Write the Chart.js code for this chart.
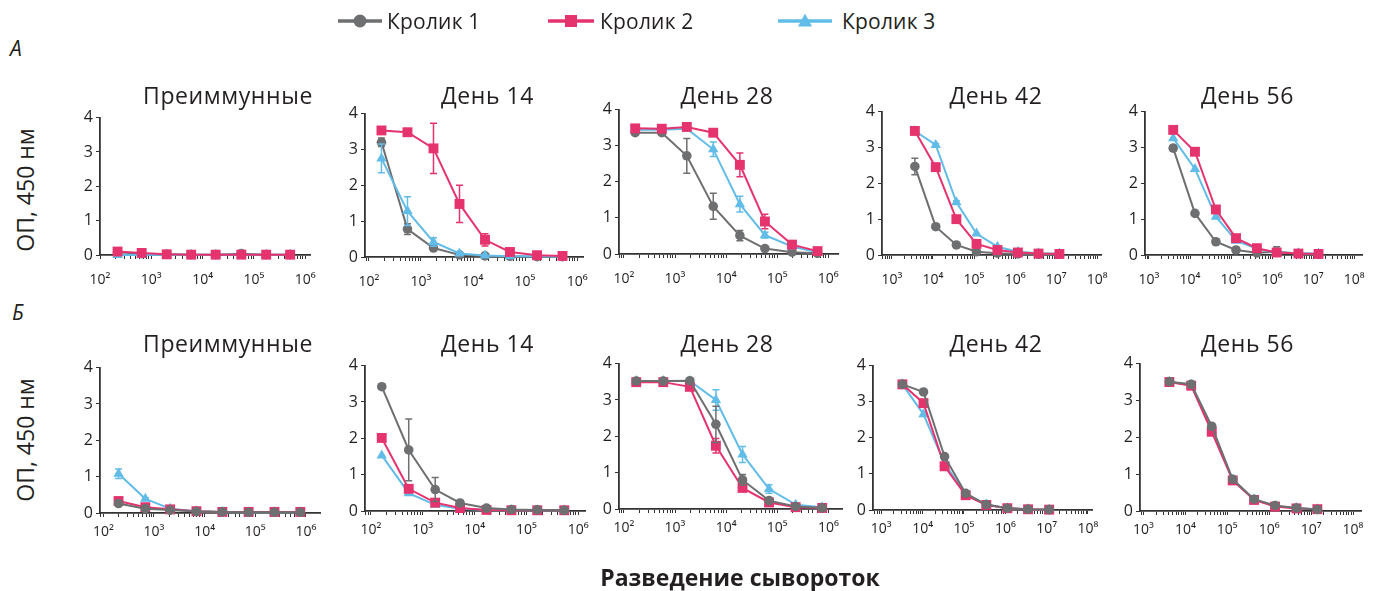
<!DOCTYPE html>
<html><head><meta charset="utf-8">
<script src="https://cdn.jsdelivr.net/npm/chart.js@4.4.0/dist/chart.umd.min.js"></script>
<style>
body{margin:0;background:#fff;width:1377px;height:591px;position:relative;overflow:hidden;font-family:"Open Sans",sans-serif;color:#231f20}
.t{position:absolute;white-space:nowrap;transform:translate(-50%,-50%);line-height:1}
canvas{position:absolute}
</style></head><body>
<script>
// ---------------- DATA ----------------
const seriesNames = ['Кролик 1','Кролик 2','Кролик 3'];
const panelTitles = ['Преиммунные','День 14','День 28','День 42','День 56'];
const rowLabels = ['А','Б'];
const yAxisTitle = 'ОП, 450 нм';
const xAxisTitle = 'Разведение сывороток';
const yTickValues = [0,1,2,3,4];
const yTickLabels = ['0','1','2','3','4'];
const xTickValuesLow = [1e2,1e3,1e4,1e5,1e6];
const xTickLabelsLow = ['10²','10³','10⁴','10⁵','10⁶'];
const xTickValuesHigh = [1e3,1e4,1e5,1e6,1e7,1e8];
const xTickLabelsHigh = ['10³','10⁴','10⁵','10⁶','10⁷','10⁸'];

// serum dilutions (read from the x positions of the points)
const dilA1 = [220,650,2000,6000,18000,57000,174000,510000];
const dilA2 = [174,550,1740,5500,17000,51300,170000,525000];
const dilA3 = [166,550,1700,5600,18600,57500,195000,617000];
const dilA4 = [3630,11700,37200,115000,372000,1170000,3720000,12000000];
const dilA5 = [3890,13200,42700,132000,427000,1290000,4370000,13500000];
const dilB1 = [200,676,2090,6900,22400,74000,240000,776000];
const dilB2 = [162,537,1740,5250,17000,51300,162000,537000];
const dilB3 = [174,589,1950,6300,20900,69200,229000,759000];
const dilB4 = [3240,10500,33900,110000,347000,1120000,3550000,11500000];
const dilB5 = [4170,13800,42700,135000,437000,1380000,4470000,14100000];

// Row A
const a1R1 = [0.08,0.04,0.02,0.01,0.01,0.04,0.01,0.01];
const a1R2 = [0.10,0.06,0.02,0.01,0.01,0.01,0.01,0.01];
const a1R3 = [0.00,0.00,0.01,0.01,0.01,0.01,0.01,0.01];
const a2R1 = [3.20,0.78,0.25,0.06,0.03,0.02,0.01,0.01];
const a2R1e = [0.12,0.15,0.04,0.02,0,0,0,0];
const a2R2 = [3.53,3.48,3.03,1.48,0.48,0.14,0.05,0.03];
const a2R2e = [0.04,0.04,0.70,0.52,0.17,0.03,0,0];
const a2R3 = [2.75,1.28,0.42,0.10,0.04,0.02,0.02,0.01];
const a2R3e = [0.40,0.40,0.12,0.04,0,0,0,0];
const a3R1 = [3.36,3.36,2.72,1.32,0.51,0.15,0.05,0.02];
const a3R1e = [0.03,0.03,0.48,0.36,0.14,0.03,0,0];
const a3R2 = [3.48,3.47,3.52,3.36,2.47,0.90,0.26,0.08];
const a3R2e = [0.03,0.03,0.03,0.05,0.33,0.20,0.03,0.02];
const a3R3 = [3.44,3.44,3.47,2.90,1.38,0.52,0.21,0.05];
const a3R3e = [0.03,0.03,0.03,0.20,0.22,0.08,0.02,0.01];
const a4R1 = [2.47,0.79,0.28,0.09,0.05,0.03,0.02,0.02];
const a4R1e = [0.23,0.06,0.03,0,0,0,0,0];
const a4R2 = [3.46,2.45,1.00,0.31,0.14,0.07,0.04,0.03];
const a4R2e = [0.03,0.10,0.04,0,0,0,0,0];
const a4R3 = [3.46,3.07,1.47,0.60,0.23,0.09,0.05,0.04];
const a4R3e = [0.03,0.03,0.04,0,0,0,0,0];
const a5R1 = [2.98,1.16,0.37,0.14,0.06,0.09,0.04,0.02];
const a5R1e = [0.08,0.03,0.03,0,0,0.14,0,0];
const a5R2 = [3.49,2.88,1.27,0.47,0.19,0.07,0.04,0.03];
const a5R3 = [3.26,2.40,1.07,0.40,0.17,0.07,0.05,0.04];
// Row B
const b1R1 = [0.26,0.12,0.08,0.04,0.03,0.02,0.02,0.02];
const b1R2 = [0.33,0.16,0.10,0.05,0.03,0.03,0.03,0.03];
const b1R3 = [1.08,0.39,0.12,0.05,0.03,0.02,0.02,0.02];
const b1R3e = [0.13,0.03,0,0,0,0,0,0];
const b2R1 = [3.42,1.68,0.59,0.22,0.08,0.04,0.03,0.02];
const b2R1e = [0.07,0.85,0.33,0.06,0.02,0,0,0];
const b2R2 = [2.01,0.61,0.23,0.08,0.03,0.02,0.02,0.02];
const b2R3 = [1.53,0.49,0.17,0.06,0.03,0.02,0.02,0.02];
const b3R1 = [3.52,3.52,3.53,2.33,0.80,0.23,0.07,0.03];
const b3R1e = [0,0,0.02,0.50,0.15,0.03,0,0];
const b3R2 = [3.49,3.49,3.36,1.74,0.58,0.18,0.05,0.03];
const b3R2e = [0,0,0.05,0.20,0.05,0.03,0,0];
const b3R3 = [3.52,3.52,3.52,3.00,1.50,0.55,0.12,0.05];
const b3R3e = [0,0,0,0.28,0.22,0.12,0.04,0];
const b4R1 = [3.48,3.27,1.48,0.46,0.15,0.05,0.02,0.01];
const b4R2 = [3.48,2.96,1.21,0.41,0.14,0.05,0.02,0.01];
const b4R3 = [3.48,2.65,1.29,0.43,0.15,0.05,0.02,0.01];
const b5R1 = [3.51,3.44,2.30,0.86,0.32,0.15,0.08,0.04];
const b5R2 = [3.50,3.40,2.15,0.83,0.30,0.12,0.07,0.05];
const b5R3 = [3.50,3.42,2.20,0.85,0.31,0.13,0.08,0.05];

const panels = [
  {title:0,row:0,dil:dilA1,s:[[a1R1,null],[a1R2,null],[a1R3,null]],ticks:'low'},
  {title:1,row:0,dil:dilA2,s:[[a2R1,a2R1e],[a2R2,a2R2e],[a2R3,a2R3e]],ticks:'low'},
  {title:2,row:0,dil:dilA3,s:[[a3R1,a3R1e],[a3R2,a3R2e],[a3R3,a3R3e]],ticks:'low'},
  {title:3,row:0,dil:dilA4,s:[[a4R1,a4R1e],[a4R2,a4R2e],[a4R3,a4R3e]],ticks:'high'},
  {title:4,row:0,dil:dilA5,s:[[a5R1,a5R1e],[a5R2,null],[a5R3,null]],ticks:'high'},
  {title:0,row:1,dil:dilB1,s:[[b1R1,null],[b1R2,null],[b1R3,b1R3e]],ticks:'low'},
  {title:1,row:1,dil:dilB2,s:[[b2R1,b2R1e],[b2R2,null],[b2R3,null]],ticks:'low'},
  {title:2,row:1,dil:dilB3,s:[[b3R1,b3R1e],[b3R2,b3R2e],[b3R3,b3R3e]],ticks:'low'},
  {title:3,row:1,dil:dilB4,s:[[b4R1,null],[b4R2,null],[b4R3,null]],ticks:'high'},
  {title:4,row:1,dil:dilB5,s:[[b5R1,null],[b5R2,null],[b5R3,null]],ticks:'high'}
];

// ---------------- LAYOUT / STYLE ----------------
const COLORS = ['#6e6f71','#e5336e','#62bce8'];
const POINT_STYLES = ['circle','rect','triangle'];
const POINT_RADII = [4.8,7,6];
const ROW_ORDER = [[3,1,2],[1,2,3]]; // draw order (lower on top)
const LAYOUT = [
  {ax:100,  y4:117, y0:255, d:51.4, min:100, max:1.25e6, tx:228},
  {ax:365,  y4:113, y0:257, d:52,   min:84,  max:1.3e6,  tx:487.5},
  {ax:619,  y4:109, y0:254, d:51,   min:80,  max:1.55e6, tx:727},
  {ax:882,  y4:111, y0:255, d:41.5, min:575, max:1.25e8, tx:996},
  {ax:1145, y4:111, y0:255, d:41,   min:800, max:1.55e8, tx:1247.5},
  {ax:100,  y4:367, y0:513, d:50.6, min:86,  max:1.9e6,  tx:228},
  {ax:365,  y4:365, y0:511, d:51.9, min:77,  max:1.35e6, tx:487.5},
  {ax:619,  y4:363, y0:509, d:51.2, min:80,  max:1.85e6, tx:727},
  {ax:873,  y4:365, y0:510, d:41.3, min:630, max:1.25e8, tx:996},
  {ax:1140, y4:363, y0:511, d:42,   min:830, max:1.55e8, tx:1247.5}
];
const ROW_STYLE = [{titleY:95, xPad:13},{titleY:343, xPad:7}];
const WY = 36, PAD_T = 12, PAD_R = 18, HX = 40;
const FONT = '"Open Sans", sans-serif';

function addText(txt, x, y, css){
  const d = document.createElement('div');
  d.className = 't'; d.textContent = txt;
  d.style.left = x+'px'; d.style.top = y+'px';
  Object.assign(d.style, css||{});
  document.body.appendChild(d);
  return d;
}

const errorBars = {
  id:'errorBars',
  beforeDatasetDraw(chart, args){
    const ds = chart.data.datasets[args.index];
    if(!ds.errors) return;
    const xs = chart.scales.x, ys = chart.scales.y, ctx = chart.ctx;
    ctx.save(); ctx.strokeStyle = ds.borderColor; ctx.lineWidth = 1.5;
    ds.data.forEach((p,i)=>{
      const e = ds.errors[i]; if(!e) return;
      const px = xs.getPixelForValue(p.x);
      const t = ys.getPixelForValue(p.y+e), b = ys.getPixelForValue(Math.max(0,p.y-e));
      ctx.beginPath();
      ctx.moveTo(px,t); ctx.lineTo(px,b);
      ctx.moveTo(px-3.5,t); ctx.lineTo(px+3.5,t);
      ctx.moveTo(px-3.5,b); ctx.lineTo(px+3.5,b);
      ctx.stroke();
    });
    ctx.restore();
  }
};

panels.forEach((p, idx)=>{
  const L = LAYOUT[idx], R = ROW_STYLE[p.row];
  const plotW = (Math.log10(L.max)-Math.log10(L.min))*L.d;
  const plotH = L.y0 - L.y4;
  const cv = document.createElement('canvas');
  const w = Math.round(WY + plotW + PAD_R), h = Math.round(PAD_T + plotH + HX);
  cv.width = w; cv.height = h;
  cv.style.left = (L.ax - WY)+'px'; cv.style.top = (L.y4 - PAD_T)+'px';
  cv.style.width = w+'px'; cv.style.height = h+'px';
  document.body.appendChild(cv);
  addText(panelTitles[p.title], L.tx, R.titleY, {fontSize:'23px', letterSpacing:'0.6px'});

  const tv = p.ticks==='low' ? xTickValuesLow : xTickValuesHigh;
  const tl = p.ticks==='low' ? xTickLabelsLow : xTickLabelsHigh;
  const datasets = p.s.map((pair, k)=>({
    label: seriesNames[k],
    data: p.dil.map((x,i)=>({x:x, y:pair[0][i]})),
    errors: pair[1],
    borderColor: COLORS[k], backgroundColor: COLORS[k],
    pointBackgroundColor: COLORS[k], pointBorderColor: COLORS[k],
    pointStyle: POINT_STYLES[k], pointRadius: POINT_RADII[k], pointBorderWidth: 0,
    borderWidth: 2, tension: 0, clip: false,
    order: ROW_ORDER[p.row][k]
  }));
  new Chart(cv, {
    type:'line',
    data:{datasets},
    options:{
      responsive:false, animation:false, devicePixelRatio:1,
      layout:{padding:{top:PAD_T,right:PAD_R,left:0,bottom:0}},
      plugins:{legend:{display:false},tooltip:{enabled:false}},
      scales:{
        x:{type:'logarithmic', min:L.min, max:L.max,
          afterFit:s=>{s.height=HX;},
          afterBuildTicks:s=>{
            const t=[]; const lo=Math.floor(Math.log10(s.min)), hi=Math.ceil(Math.log10(s.max));
            for(let e=lo;e<=hi;e++) for(let m=1;m<10;m++){const v=m*Math.pow(10,e); if(v>=s.min*0.9999 && v<=s.max*1.0001) t.push({value:v});}
            s.ticks=t;
          },
          grid:{drawOnChartArea:false, drawTicks:true, tickLength:4, color:'#333', tickWidth:1},
          border:{display:true, color:'#333', width:1.8},
          ticks:{autoSkip:false, maxRotation:0, minRotation:0, padding:R.xPad, color:'#231f20',
            font:{family:FONT, size:14},
            callback:(v)=>{const i=tv.findIndex(t=>Math.abs(t-v)/t<1e-6); return i>=0?tl[i]:'';}}
        },
        y:{type:'linear', min:0, max:4,
          afterFit:s=>{s.width=WY;},
          afterBuildTicks:s=>{s.ticks=yTickValues.map(v=>({value:v}));},
          grid:{drawOnChartArea:false, tickLength:4, color:'#333'},
          border:{display:true, color:'#333', width:1.8},
          ticks:{padding:3, color:'#231f20', font:{family:FONT, size:16},
            callback:(v)=>{const i=yTickValues.indexOf(v); return i>=0?yTickLabels[i]:'';}}
        }
      }
    },
    plugins:[errorBars]
  });
});

// legend
const LEG = [{x:338, w:44, tx:387},{x:548, w:46, tx:600},{x:778, w:54, tx:842}];
seriesNames.forEach((n,k)=>{
  const L = LEG[k];
  const ns='http://www.w3.org/2000/svg';
  const svg=document.createElementNS(ns,'svg');
  svg.setAttribute('width',L.w); svg.setAttribute('height',20);
  svg.style.position='absolute'; svg.style.left=L.x+'px'; svg.style.top='11px';
  const ln=document.createElementNS(ns,'line');
  ln.setAttribute('x1',0); ln.setAttribute('x2',L.w); ln.setAttribute('y1',10); ln.setAttribute('y2',10);
  ln.setAttribute('stroke',COLORS[k]); ln.setAttribute('stroke-width',3.5);
  svg.appendChild(ln);
  const c=L.w/2; let m;
  if(k===0){m=document.createElementNS(ns,'circle'); m.setAttribute('cx',c); m.setAttribute('cy',10); m.setAttribute('r',6.5);}
  else if(k===1){m=document.createElementNS(ns,'rect'); m.setAttribute('x',c-6); m.setAttribute('y',4); m.setAttribute('width',12); m.setAttribute('height',12);}
  else {m=document.createElementNS(ns,'polygon'); m.setAttribute('points',`${c},2.5 ${c+7},15.5 ${c-7},15.5`);}
  m.setAttribute('fill',COLORS[k]); svg.appendChild(m);
  document.body.appendChild(svg);
  addText(n, L.tx, 21, {fontSize:'21px', letterSpacing:'0.2px', transform:'translate(0,-50%)'});
});

addText(rowLabels[0], 16, 48, {fontSize:'21px', fontStyle:'italic'});
addText(rowLabels[1], 18, 312, {fontSize:'21px', fontStyle:'italic'});
addText(yAxisTitle, 25, 190, {fontSize:'23px', transform:'translate(-50%,-50%) rotate(-90deg)'});
addText(yAxisTitle, 25, 440, {fontSize:'23px', transform:'translate(-50%,-50%) rotate(-90deg)'});
addText(xAxisTitle, 740, 577, {fontSize:'23px', fontWeight:'bold'});
</script>
</body></html>
